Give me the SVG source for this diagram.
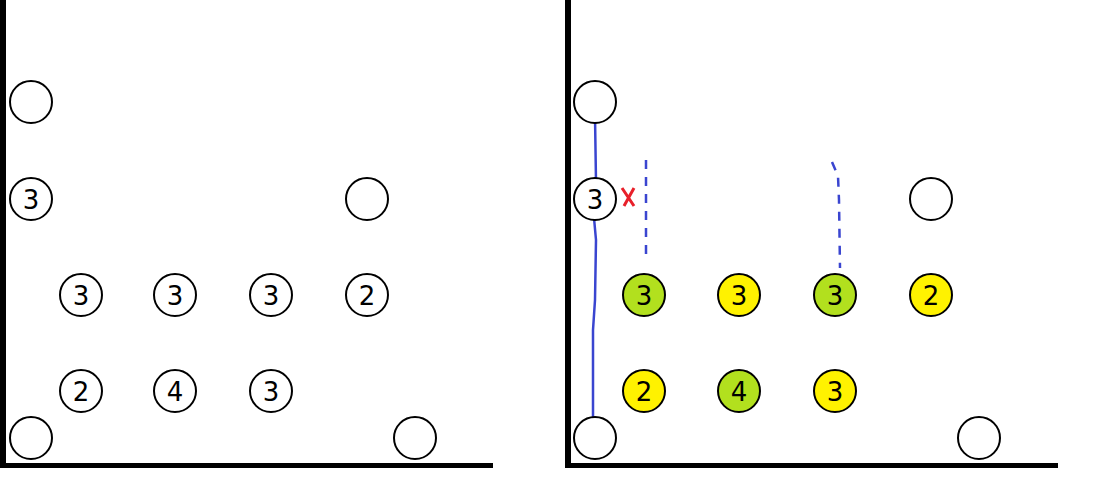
<svg xmlns="http://www.w3.org/2000/svg" width="1113" height="479" viewBox="0 0 1113 479">
<style>
.c{stroke:#000;stroke-width:2;fill:#fff}
.g{fill:#b2e01e}.y{fill:#fff200}
text{font-family:"DejaVu Sans",sans-serif;font-size:26px;text-anchor:middle;dominant-baseline:central}
.w{fill:#000}
</style>
<rect width="1113" height="479" fill="#fff"/>
<g id="walls">
<rect class="w" x="0" y="0" width="6" height="468"/>
<rect class="w" x="0" y="463" width="493" height="5"/>
<rect class="w" x="565" y="0" width="6" height="468"/>
<rect class="w" x="565" y="463" width="493" height="5"/>
</g>
<g id="connectors" fill="none" stroke="#3a45d0" stroke-width="2.5">
<path d="M595 116 L596 182 M594 218 L596 240 L595 300 L593 330 L593 418"/>
<path d="M646 160 V262" stroke-dasharray="9 8"/>
<path d="M832 162 L838 176 L839 200 L840 268" stroke-dasharray="9 8"/>
<path d="M622 188 L634 206 M634 188 L624 206" stroke="#e8202a" stroke-width="3"/>
</g>
<g id="L1"><circle class="c" cx="31" cy="102" r="21"/></g>
<g id="L2"><circle class="c" cx="31" cy="199" r="21"/><text x="31" y="200">3</text></g>
<g id="L3"><circle class="c" cx="367" cy="199" r="21"/></g>
<g id="L4"><circle class="c" cx="81" cy="295" r="21"/><text x="81" y="296">3</text></g>
<g id="L5"><circle class="c" cx="175" cy="295" r="21"/><text x="175" y="296">3</text></g>
<g id="L6"><circle class="c" cx="271" cy="295" r="21"/><text x="271" y="296">3</text></g>
<g id="L7"><circle class="c" cx="367" cy="295" r="21"/><text x="367" y="296">2</text></g>
<g id="L8"><circle class="c" cx="81" cy="391" r="21"/><text x="81" y="392">2</text></g>
<g id="L9"><circle class="c" cx="175" cy="391" r="21"/><text x="175" y="392">4</text></g>
<g id="L10"><circle class="c" cx="271" cy="391" r="21"/><text x="271" y="392">3</text></g>
<g id="L11"><circle class="c" cx="31" cy="438" r="21"/></g>
<g id="L12"><circle class="c" cx="415" cy="438" r="21"/></g>
<g id="R1"><circle class="c" cx="595" cy="102" r="21"/></g>
<g id="R2"><circle class="c" cx="595" cy="199" r="21"/><text x="595" y="200">3</text></g>
<g id="R3"><circle class="c" cx="931" cy="199" r="21"/></g>
<g id="R4"><circle class="c g" cx="644" cy="295" r="21"/><text x="644" y="296">3</text></g>
<g id="R5"><circle class="c y" cx="739" cy="295" r="21"/><text x="739" y="296">3</text></g>
<g id="R6"><circle class="c g" cx="835" cy="295" r="21"/><text x="835" y="296">3</text></g>
<g id="R7"><circle class="c y" cx="931" cy="295" r="21"/><text x="931" y="296">2</text></g>
<g id="R8"><circle class="c y" cx="644" cy="391" r="21"/><text x="644" y="392">2</text></g>
<g id="R9"><circle class="c g" cx="739" cy="391" r="21"/><text x="739" y="392">4</text></g>
<g id="R10"><circle class="c y" cx="835" cy="391" r="21"/><text x="835" y="392">3</text></g>
<g id="R11"><circle class="c" cx="595" cy="438" r="21"/></g>
<g id="R12"><circle class="c" cx="979" cy="438" r="21"/></g>
</svg>
